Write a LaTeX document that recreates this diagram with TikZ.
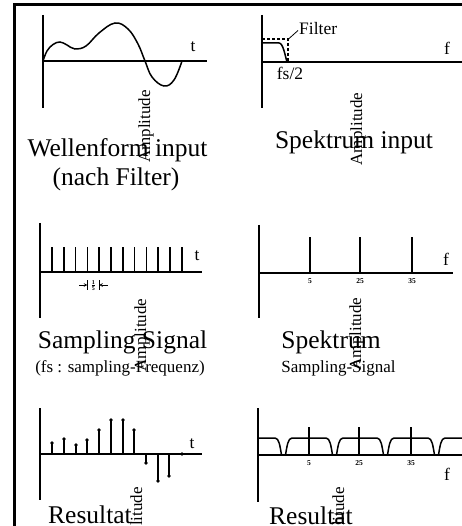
\documentclass[tikz,border=0pt]{standalone}
\usepackage{fontspec}
\setmainfont{Liberation Serif}
\begin{document}
\begin{tikzpicture}[x=1pt,y=-1pt,
  big/.style={font=\fontsize{25.5}{29}\selectfont, inner sep=0pt, anchor=base},
  small/.style={font=\fontsize{17}{20}\selectfont, inner sep=0pt, anchor=base},
  lab/.style={font=\fontsize{17.5}{19}\selectfont, inner sep=0pt, anchor=base},
  amp/.style={font=\fontsize{17}{20}\selectfont, rotate=90, inner sep=0pt},
  tinylab/.style={font=\fontsize{7.5}{8}\selectfont\bfseries, inner sep=0pt},
  axisline/.style={line width=1.2pt},
  sig/.style={line width=1.5pt},
  stem/.style={line width=1.5pt},
  frameline/.style={line width=3pt}
]
\useasboundingbox (0,0) rectangle (461,526);
% frame
\draw[frameline] (14.5,530) -- (14.5,4.5) -- (465,4.5);

% ---------- Panel 1: Wellenform input
\draw[axisline] (43,15) -- (43,108);
\draw[axisline] (43,61) -- (207,61);
\draw[sig] plot[smooth, tension=0.65] coordinates {(43,61) (47,51) (53,44.5) (60,42) (67,45) (75,49) (86,46) (99,33) (115,23) (128,29) (138,44) (145,61) (152,77) (164,86) (174,80) (182,61)};
\node[lab] (t1) at (193,52) {t};
\node[amp] (a1) at (146,126.5) {Amplitude};
\node[big] (w1) at (117.5,157) {Wellenform input};
\node[big] (w2) at (116,186) {(nach Filter)};

% ---------- Panel 2: Spektrum input
\draw[axisline] (262,15) -- (262,108);
\draw[axisline] (262,62) -- (462,62);
\draw[sig] (262,43) -- (279,43) .. controls (283,43) and (285,55) .. (287,62);
\draw[line width=1.2pt, dash pattern=on 3pt off 2pt] (262,39) -- (288,39) -- (288,62);
\coordinate (fc) at (288.5,39);
\node[lab, anchor=base west] (filt) at (299,35) {Filter};
\draw[line width=0.8pt] (fc) -- (298,30.5);
\node[lab] (fs2) at (290,80) {fs/2};
\node[lab] (f2) at (447,55) {f};
\node[amp] (a2) at (358,129) {Amplitude};
\node[big] (s1) at (354,149) {Spektrum input};

% ---------- Panel 3: Sampling Signal
\draw[axisline] (40,223) -- (40,318);
\draw[axisline] (40,272) -- (202,272);
\foreach \i in {0,...,11} {
  \draw[stem] ({52+11.8*\i},247) -- ({52+11.8*\i},272);
}
\node[lab] (t3) at (197,260) {t};
% dimension 1/5
\coordinate (d1) at (87.4,285);
\coordinate (d2) at (99.2,285);
\draw[line width=0.6pt] (87.4,280) -- (87.4,290);
\draw[line width=0.6pt] (99.2,280) -- (99.2,290);
\draw[line width=0.6pt, -stealth] (79,285) -- (d1);
\draw[line width=0.6pt, -stealth] (107.5,285) -- (d2);
\node[inner sep=0pt] (frac) at (93.3,285.5) {\fontsize{8}{8}\selectfont$\mathbf{\frac{1}{5}}$};
\node[amp] (a3) at (142,335) {Amplitude};
\node[big] (ss) at (122.5,348) {Sampling Signal};
\node[small] (fsn) at (120,372) {(fs : sampling-Frequenz)};

% ---------- Panel 4: Spektrum Sampling-Signal
\draw[axisline] (259,225) -- (259,318);
\draw[axisline] (259,273) -- (453,273);
\foreach \x/\l in {310/5, 360/25, 412/35} {
  \draw[stem] (\x,237) -- (\x,273);
  \node[tinylab] at (\x,281) {\l};
}
\node[lab] (f4) at (446,265) {f};
\node[amp] (a4) at (357,334) {Amplitude};
\node[big] (sp) at (331,348) {Spektrum};
\node[small] (sps) at (338.5,372) {Sampling-Signal};

% ---------- Panel 5: Resultat (time)
\draw[axisline] (40,408) -- (40,500);
\draw[axisline] (40,454) -- (202,454);
\foreach \x/\y in {52/443, 64/439, 76/445, 87/440, 99/430, 111/420, 123/420, 134/430, 146/463, 158/481, 169/476, 182/454} {
  \draw[stem] (\x,454) -- (\x,\y);
  \fill (\x,\y) circle (1.9pt);
}
\node[lab] (t5) at (192,448) {t};
\node[amp] (a5) at (138,523.5) {Amplitude};
\node[big] (r1) at (90,523) {Resultat};

% ---------- Panel 6: Resultat (spectrum)
\draw[axisline] (258,408) -- (258,502);
\draw[axisline] (258,455) -- (462,455);
\draw[sig] (258,438) -- (275,438) .. controls (279,438) and (280,446) .. (281.5,455);
\foreach \c in {309,360,411,462} {
  \draw[sig] ({\c-23.5},455) .. controls ({\c-22},446) and ({\c-21},438) .. ({\c-17},438)
     -- ({\c+17},438) .. controls ({\c+21},438) and ({\c+22},446) .. ({\c+23.5},455);
}
\foreach \x/\l in {309/5, 359/25, 411/35} {
  \draw[stem] (\x,427) -- (\x,455);
  \node[tinylab] at (\x,463) {\l};
}
\node[lab] (f6) at (447,480) {f};
\node[amp] (a6) at (340,523.5) {Amplitude};
\node[big] (r2) at (311,524) {Resultat};
\end{tikzpicture}
\end{document}
